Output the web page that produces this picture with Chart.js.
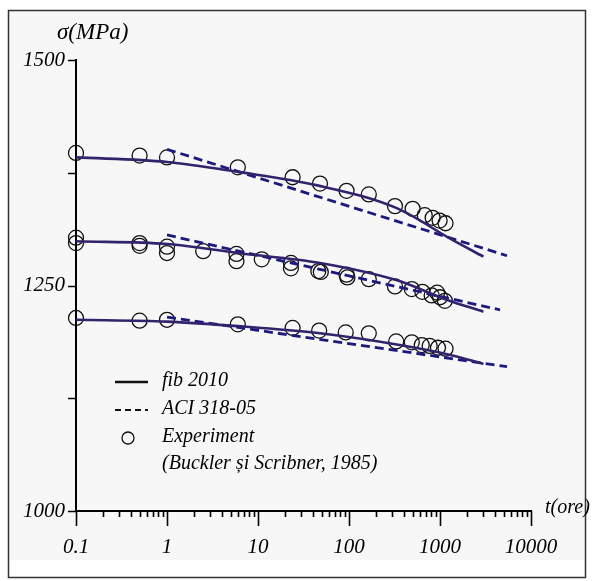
<!DOCTYPE html>
<html>
<head>
<meta charset="utf-8">
<script src="https://cdn.jsdelivr.net/npm/chart.js@4.4.0/dist/chart.umd.min.js"></script>
<style>
  html, body { margin: 0; padding: 0; background: #fff; }
  canvas { display: block; }
</style>
</head>
<body>
<canvas id="relaxChart" width="593" height="581"></canvas>
<script>
// axis ticks
const xTickLabels = ['0.1', '1', '10', '100', '1000', '10000'];
const yTickLabels = ['1000', '1250', '1500'];
const yMinorTicks = [1125, 1375];

// fib 2010 curves (t in hours, stress in MPa)
const fibTopT = [0.1, 1, 6, 45, 330, 1400, 3000];
const fibTopS = [1392, 1387, 1376, 1361, 1336, 1300, 1282];
const fibMidT = [0.1, 1, 6, 48, 330, 1200, 3000];
const fibMidS = [1299, 1296, 1286, 1275, 1256, 1234, 1221];
const fibLowT = [0.1, 1, 6, 48, 360, 1300, 3000];
const fibLowS = [1212, 1210, 1205, 1197, 1184, 1173, 1163];

// ACI 318-05 lines
const aciTopT = [1, 5450];
const aciTopS = [1401, 1283];
const aciMidT = [1, 4570];
const aciMidS = [1306, 1223];
const aciLowT = [1, 5450];
const aciLowS = [1215, 1160];

// Experiment (Buckler si Scribner, 1985)
const expTopT = [0.1, 0.5, 1, 6, 24, 48, 94, 165, 320, 500, 680, 830, 990, 1150];
const expTopS = [1397, 1394, 1392, 1381, 1370, 1363, 1355, 1351, 1338, 1335, 1328, 1325, 1322, 1319];
const expMidT = [0.1, 0.1, 0.5, 0.5, 1, 1, 2.5, 5.8, 5.8, 11, 23, 23, 46, 49, 94, 96, 165, 320, 490, 640, 810, 930, 1000, 1130];
const expMidS = [1303, 1297, 1297, 1294, 1293, 1286, 1288, 1285, 1277, 1279, 1275, 1269, 1266, 1265, 1262, 1259, 1257, 1249, 1246, 1243, 1239, 1242, 1237, 1233];
const expLowT = [0.1, 0.5, 1, 6, 24, 47, 92, 165, 330, 490, 630, 770, 950, 1150];
const expLowS = [1214, 1211, 1212, 1207, 1203, 1200, 1198, 1197, 1188, 1187, 1184, 1183, 1181, 1180];

const legendLabels = ['fib 2010', 'ACI 318-05', 'Experiment', '(Buckler și Scribner, 1985)'];

const FONT = '"Liberation Serif", "DejaVu Serif", serif';
const solidColor = '#33226c';
const dashColor = '#1d1a7e';

function pts(t, s) {
  return t.map((v, i) => ({ x: v, y: s[i] }));
}

function fibSet(t, s) {
  return {
    label: 'fib 2010', data: pts(t, s), borderColor: solidColor, borderWidth: 2.6,
    pointRadius: 0, cubicInterpolationMode: 'monotone', fill: false,
  };
}
function aciSet(t, s) {
  return {
    label: 'ACI 318-05', data: pts(t, s), borderColor: dashColor, borderWidth: 2.8,
    borderDash: [9, 5], pointRadius: 0, tension: 0, fill: false,
  };
}
function expSet(t, s) {
  return {
    label: 'Experiment', data: pts(t, s), showLine: false, clip: false,
    pointRadius: 7.5, pointBorderWidth: 1.3, pointBorderColor: '#111',
    pointBackgroundColor: 'rgba(0,0,0,0)',
  };
}

// background, frame, extra tick marks, titles and legend
const decorPlugin = {
  id: 'decor',
  beforeDraw(chart) {
    const ctx = chart.ctx;
    ctx.save();
    ctx.fillStyle = '#ffffff';
    ctx.fillRect(0, 0, chart.width, chart.height);
    ctx.fillStyle = '#f7f7f7';
    ctx.fillRect(9, 11, 576, 549);
    ctx.strokeStyle = '#333';
    ctx.lineWidth = 1.5;
    ctx.strokeRect(8.5, 10.5, 577, 567);
    ctx.restore();
  },
  afterDraw(chart) {
    const ctx = chart.ctx;
    const xs = chart.scales.x;
    const ys = chart.scales.y;
    const area = chart.chartArea;
    ctx.save();
    ctx.strokeStyle = '#000';
    ctx.lineWidth = 1.6;
    ctx.beginPath();
    // x ticks: decades long, others short
    for (let d = 0; d < xTickLabels.length; d++) {
      const base = Number(xTickLabels[d]);
      const px = Math.round(xs.getPixelForValue(base)) + 0.5;
      ctx.moveTo(px, area.bottom);
      ctx.lineTo(px, area.bottom + 15);
      if (d === xTickLabels.length - 1) break;
      for (let m = 2; m <= 9; m++) {
        const mx = Math.round(xs.getPixelForValue(base * m)) + 0.5;
        ctx.moveTo(mx, area.bottom);
        ctx.lineTo(mx, area.bottom + 6);
      }
    }
    // y ticks to the left
    yTickLabels.map(Number).concat(yMinorTicks).forEach(v => {
      const py = Math.round(ys.getPixelForValue(v)) + 0.5;
      ctx.moveTo(area.left - 8, py);
      ctx.lineTo(area.left, py);
    });
    ctx.stroke();

    // axis titles
    ctx.fillStyle = '#000';
    ctx.textBaseline = 'middle';
    ctx.textAlign = 'left';
    ctx.font = 'italic 23px ' + FONT;
    ctx.fillText('σ(MPa)', 57, 33);
    ctx.font = 'italic 20px ' + FONT;
    ctx.fillText('t(ore)', 545, 508);

    // legend
    const ds = chart.data.datasets;
    ctx.lineWidth = ds[0].borderWidth;
    ctx.strokeStyle = '#111';
    ctx.beginPath();
    ctx.moveTo(115, 382);
    ctx.lineTo(148, 382);
    ctx.stroke();
    ctx.lineWidth = 2.2;
    ctx.setLineDash([6, 4]);
    ctx.beginPath();
    ctx.moveTo(115, 410);
    ctx.lineTo(148, 410);
    ctx.stroke();
    ctx.setLineDash([]);
    ctx.lineWidth = 1.3;
    ctx.beginPath();
    ctx.arc(128, 438, 6, 0, Math.PI * 2);
    ctx.stroke();

    ctx.font = 'italic 20px ' + FONT;
    ctx.fillStyle = '#000';
    ctx.fillText(legendLabels[0], 162, 381);
    ctx.fillText(legendLabels[1], 162, 409);
    ctx.fillText(legendLabels[2], 162, 437);
    ctx.fillText(legendLabels[3], 162, 464);
    ctx.restore();
  },
};

const tickFont = { family: FONT, style: 'italic', size: 21 };

new Chart(document.getElementById('relaxChart'), {
  type: 'line',
  data: {
    datasets: [
      fibSet(fibTopT, fibTopS),
      fibSet(fibMidT, fibMidS),
      fibSet(fibLowT, fibLowS),
      aciSet(aciTopT, aciTopS),
      aciSet(aciMidT, aciMidS),
      aciSet(aciLowT, aciLowS),
      expSet(expTopT, expTopS),
      expSet(expMidT, expMidS),
      expSet(expLowT, expLowS),
    ],
  },
  options: {
    responsive: false,
    animation: false,
    devicePixelRatio: 1,
    layout: { padding: { top: 60, right: 62, left: 0, bottom: 0 } },
    plugins: {
      legend: { display: false },
      tooltip: { enabled: false },
    },
    scales: {
      x: {
        type: 'logarithmic',
        min: 0.1,
        max: 10000,
        grid: { display: false },
        border: { display: true, color: '#000', width: 2 },
        afterBuildTicks: (scale) => {
          scale.ticks = xTickLabels.map(l => ({ value: Number(l), major: true }));
        },
        afterFit: (scale) => { scale.height = 70; },
        ticks: {
          autoSkip: false,
          maxRotation: 0,
          color: '#000',
          font: tickFont,
          padding: 16,
          callback: (v, i) => xTickLabels[i],
        },
      },
      y: {
        type: 'linear',
        min: 1000,
        max: 1500,
        grid: { display: false },
        border: { display: true, color: '#000', width: 2 },
        afterBuildTicks: (scale) => {
          scale.ticks = yTickLabels.map(l => ({ value: Number(l) }));
        },
        afterFit: (scale) => { scale.width = 76; },
        ticks: {
          color: '#000',
          font: tickFont,
          padding: 3,
          callback: (v, i) => yTickLabels[i],
        },
      },
    },
  },
  plugins: [decorPlugin],
});
</script>
</body>
</html>
